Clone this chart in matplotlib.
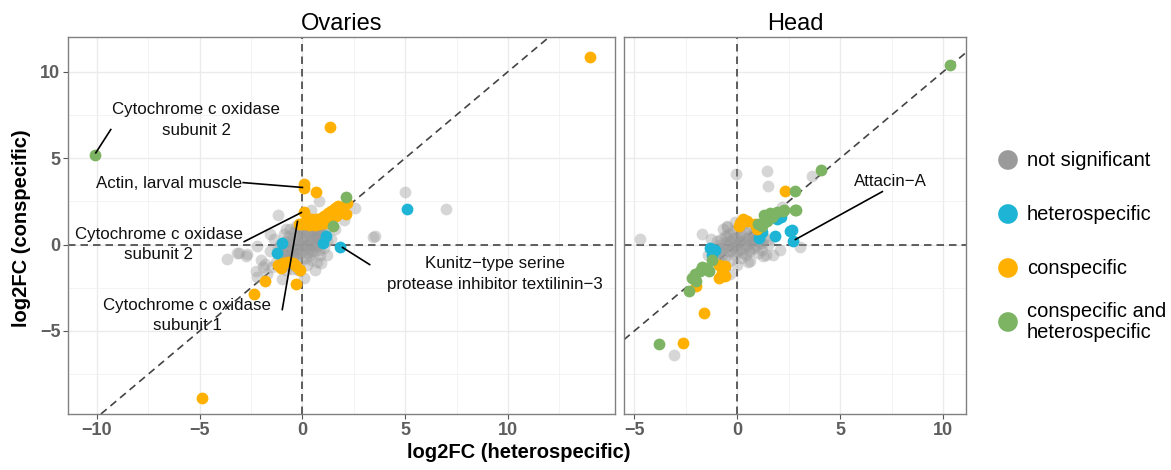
import matplotlib
matplotlib.use("Agg")
import matplotlib.pyplot as plt
import numpy as np

plt.rcParams['font.family'] = ['Liberation Sans', 'DejaVu Sans']

# ---------------- data (log2FC heterospecific, log2FC conspecific) ----------------
# Ovaries
ov_gray_x = [4.98, 6.98, 3.43, 2.54, 3.51, -3.66, -3.09, -2.68, -2.28, -2.2, -1.2, -2.21, -3.16, -2.75,
             0.83, 0.1, 0.91, 0.42, -1.5, 1.4, 1.6, 2.0, 1.2, -1.8, -1.6, -0.8, 0.6, -1.0, -1.9, -2.0, -1.7,
             -1.0, -0.9, -0.85, -0.8, -0.75, -0.7, -0.65, -0.6, -0.55, -0.5, -0.45, -0.4, -0.4, -0.35, -0.3,
             -0.25, -0.2, -0.2, -0.15, -0.1, -0.1, -0.05, 0.0, 0.0, 0.05, 0.1, 0.1, 0.15, 0.2, 0.2, 0.25, 0.3,
             0.3, 0.35, 0.4, 0.4, 0.45, 0.5, 0.55, 0.6, 0.6, 0.65, 0.7, 0.75, 0.8, 0.85, 0.9, 0.95, 1.0, 1.05,
             -1.1, -1.2, -1.3, -0.9, -0.6, -0.3, 0.0, 0.5, -0.5, 0.2, 0.7, -0.8, 1.2, 1.1, -0.2, -1.4, -1.6,
             -0.95, -0.85, -0.75, -0.65, -0.55, -0.45, -0.35, -0.25, -0.15, -0.05, 0.05, 0.15, 0.25, 0.35,
             0.45, 0.55, 0.65, 0.75, 0.85, 0.95, -0.9, -0.7, -0.5, -0.3, -0.1, 0.1, 0.3, 0.5, 0.7, 0.9,
             -1.1, -1.2, 1.0, 0.8]
ov_gray_y = [3.02, 2.06, 0.46, 2.1, 0.48, -0.83, -0.48, -0.52, -1.54, -1.9, 1.73, -0.1, -0.48, -0.67,
             2.5, -1.93, -1.06, 2.02, -1.3, 0.3, 0.9, 1.4, -0.6, -1.1, 0.6, 0.9, -1.5, -2.0, -1.3, -0.9, -1.7,
             -0.8, -0.3, -1.0, 0.2, -0.6, -1.2, 0.5, -0.2, -0.9, 0.1, -0.5, 0.7, -1.1, -0.2, 0.3,
             -0.7, 0.9, -0.3, 0.1, -1.0, 0.5, -0.5, 0.2, -0.1, 0.8, -0.3, 0.4, -0.8, 0.0, 1.0, -0.5, 0.6,
             0.2, -0.2, 0.9, -0.9, 0.4, 0.0, 0.7, -0.4, 1.0, 0.3, -0.1, 0.8, 0.4, -0.6, 0.1, 0.9, 0.5, -0.2,
             0.0, -0.5, -1.0, 0.6, 0.9, 1.1, 1.2, 1.2, -1.4, -1.2, -1.0, -1.5, 0.2, 0.8, -1.5, 0.3, -0.4,
             -0.5, 0.0, -0.9, 0.2, -0.4, 0.4, -0.7, 0.6, -0.3, 0.9, 0.3, -0.1, 0.8, 0.1,
             -0.4, 0.5, 0.0, 0.4, 0.9, 0.2, -0.6, -0.3, -0.8, -0.5, 0.0, 0.7, -0.6, 0.4, 0.6, 0.6,
             -1.1, -0.2, 0.1, -0.3]

ov_het_x = [5.09, 1.16, 0.99, 1.85, -1.0, -1.26]
ov_het_y = [2.06, 0.48, 0.1, -0.12, 0.1, -0.5]

ov_con_x = [14.0, 1.32, 0.1, 0.06, 0.67, 0.06, 2.18,
            -0.06, 0.18, 0.42, 0.67, 0.91, 1.07, 1.24, 1.4, 1.56, 1.72, 1.8, 1.97, 2.13, 1.07, 0.83,
            0.59, 0.34, 0.1, -0.15, 1.32, 1.64,
            -1.2, -0.96, -0.72, -0.47, -0.31, -0.1, -1.04,
            -1.82, -0.31, -2.34, -4.88]
ov_con_y = [10.87, 6.78, 3.5, 3.27, 3.05, 1.89, 2.41,
            1.2, 1.35, 1.45, 1.45, 1.54, 1.64, 1.83, 1.93, 2.12, 2.21, 2.02, 1.93, 1.77, 1.25, 1.16,
            1.12, 1.12, 1.16, 1.16, 1.35, 1.64,
            -1.16, -1.06, -1.0, -1.06, -1.25, -1.45, -1.35,
            -2.12, -2.27, -2.85, -8.9]

ov_both_x = [-10.1, 2.13, 1.5]
ov_both_y = [5.15, 2.73, 1.05]

# Head
hd_gray_x = [-0.05, 1.44, 1.47, 2.17, 3.62, 3.06, -4.71, -1.71, -3.06, 0.63, 1.27, 1.75, 2.09, -0.34, -0.5,
             -1.2, -1.0, -1.0, -0.9, -0.8, -0.8, -0.7, -0.6, -0.6, -0.5, -0.5, -0.4, -0.4, -0.3, -0.3, -0.2,
             -0.2, -0.1, -0.1, 0.0, 0.0, 0.1, 0.1, 0.2, 0.2, 0.3, 0.3, 0.4, 0.4, 0.5, 0.5, 0.6, 0.6, 0.7,
             0.8, 0.8, 0.9, 1.0, 1.0, 1.1, 1.2, 1.3, 1.4, -0.7, -1.3, -1.4, 0.3, -0.1, 0.7, -0.6, 0.0, 0.5,
             -1.1, -0.9, -0.7, -0.5, -0.3, -0.1, 0.1, 0.3, 0.5, 0.7, 0.9, 1.1, -0.8, -0.6, -0.4, -0.2,
             0.0, 0.2, 0.4, 0.6, 0.8, 1.0, 1.2, -1.0, -0.45, 0.15, 0.55, 0.95, 1.5, 1.6]
hd_gray_y = [4.05, 4.28, 3.41, 2.18, 3.97, -0.12, 0.33, 0.58, -6.36, -0.96, -0.67, -0.58, -0.29, -1.73, 1.06,
             -0.3, -0.8, 0.2, -0.4, 0.3, -1.0, -0.2, 0.5, -0.7, 0.0, 1.0, -0.4, 0.6, 0.2, -0.9, 0.8,
             -0.2, 0.4, -0.6, 0.0, 0.9, -0.3, 0.5, -0.8, 0.2, 0.7, -0.2, 0.3, -0.6, 0.9, 0.0, 0.5, -0.4, 0.1,
             0.7, -0.2, 0.3, -0.5, 0.8, 0.1, -0.3, 0.4, -0.6, 0.9, 0.3, -0.6, 1.2, 1.3, 1.1, -1.3, -1.2, -1.0,
             -0.5, 0.0, -0.5, 0.5, -0.4, 0.1, 0.2, -0.5, 0.4, 0.3, -0.1, 0.5, -0.6, 0.1, 0.2, 0.4,
             -0.4, 0.6, 0.0, 0.2, 0.3, 0.2, 0.1, -0.2, -0.1, 0.1, -0.3, 0.5, 0.0, 0.3]

hd_het_x = [1.04, 1.84, 2.57, 2.68, 1.93, 2.1, 1.2, -1.31, -1.07, -1.23, 2.65]
hd_het_y = [0.39, 0.52, 0.77, 0.23, 1.45, 1.6, 0.7, -0.19, -0.29, -0.58, 0.85]

hd_con_x = [2.33, 0.15, 0.47, 0.87, 0.96, 0.06, 0.3, -0.91, -0.58, -0.74, -0.91, -0.6, -1.99, -1.63, -2.64]
hd_con_y = [3.12, 1.25, 1.35, 1.16, 0.87, 1.06, 1.5, -1.16, -1.25, -1.64, -1.93, -1.8, -2.37, -3.95, -5.68]

hd_both_x = [10.34, 4.06, 2.82, 2.86, 1.28, 1.6, 1.93, 2.25, 1.44, 1.2, 2.82, 2.22, 1.7, 1.0,
             -1.23, -1.55, -1.8, -2.04, -2.2, -2.36, -1.39, -1.7, -2.0, -3.82]
hd_both_y = [10.39, 4.32, 3.12, 1.98, 1.73, 1.83, 1.87, 1.98, 1.35, 1.06, 2.0, 1.91, 1.6, 1.2,
             -0.87, -1.35, -1.54, -1.73, -1.93, -2.66, -1.54, -1.3, -2.1, -5.74]

# labelled genes: text, text position, segment start, point
ov_labels = ["Cytochrome c oxidase\nsubunit 2", "Actin, larval muscle",
             "Cytochrome c oxidase\nsubunit 2", "Cytochrome c oxidase\nsubunit 1",
             "Kunitz\u2212type serine\nprotease inhibitor textilinin\u22123"]
ov_label_xy = [(-5.17, 7.2), (-6.49, 3.53), (-6.98, 0.0), (-5.61, -4.1), (9.37, -1.7)]
ov_seg_from = [(-9.32, 6.65), (-2.88, 3.58), (-2.83, 0.17), (-0.98, -3.76), (3.27, -1.16)]
ov_seg_to = [(-10.05, 5.3), (0.0, 3.3), (-0.05, 1.85), (-0.24, 1.33), (1.95, -0.17)]

hd_labels = ["Attacin\u2212A"]
hd_label_xy = [(7.43, 3.64)]
hd_seg_from = [(7.04, 3.06)]
hd_seg_to = [(2.82, 0.29)]

legend_labels = ["not significant", "heterospecific", "conspecific", "conspecific and\nheterospecific"]

GRAY = "#9a9a9a"
HET = "#1db4d6"
CON = "#ffb000"
BOTH = "#7db463"

W, H = 1171, 470
fig = plt.figure(figsize=(W / 100, H / 100), dpi=100)
ax1 = fig.add_axes([68 / W, 1 - 414 / H, 547 / W, 377 / H])
ax2 = fig.add_axes([624 / W, 1 - 414 / H, 342 / W, 377 / H])


def style_panel(ax, xlim, xticks, xminor, show_y):
    ax.set_xlim(*xlim)
    ax.set_ylim(-9.8, 12.0)
    ax.set_xticks(xticks)
    ax.set_xticks(xminor, minor=True)
    ax.set_yticks([-5, 0, 5, 10])
    ax.set_yticks([-7.5, -2.5, 2.5, 7.5], minor=True)
    ax.grid(True, which='major', color='#ebebeb', lw=1.0, zorder=0)
    ax.grid(True, which='minor', color='#f1f1f1', lw=0.6, zorder=0)
    ax.set_axisbelow(True)
    for sp in ax.spines.values():
        sp.set_color('#808080')
        sp.set_linewidth(1.0)
    ax.tick_params(which='minor', length=0)
    ax.tick_params(which='major', length=3.5, width=0.8, color='#555555',
                   labelsize=13, labelcolor='#5e5e5e', pad=2)
    for lab in ax.get_xticklabels() + ax.get_yticklabels():
        lab.set_fontweight('bold')
    if not show_y:
        ax.tick_params(axis='y', left=False, labelleft=False)
    dash = (0, (4.5, 3))
    ax.axhline(0, color='#444444', lw=1.2, ls=dash, zorder=1)
    ax.axvline(0, color='#444444', lw=1.2, ls=dash, zorder=1)
    ax.axline((0, 0), slope=1, color='#444444', lw=1.2, ls=dash, zorder=1)


def draw_points(ax, gx, gy, hx, hy, cx, cy, bx, by):
    ax.scatter(gx, gy, s=72, color=GRAY, alpha=0.4, linewidths=0, zorder=2)
    ax.scatter(hx, hy, s=72, color=HET, linewidths=0, zorder=3)
    ax.scatter(cx, cy, s=72, color=CON, linewidths=0, zorder=3)
    ax.scatter(bx, by, s=72, color=BOTH, linewidths=0, zorder=3)


def draw_labels(ax, labels, text_xy, seg_from, seg_to):
    for lab, (tx, ty), (x0, y0), (x1, y1) in zip(labels, text_xy, seg_from, seg_to):
        ax.plot([x0, x1], [y0, y1], color='black', lw=1.2, zorder=4)
        ax.text(tx, ty, lab, ha='center', va='center', fontsize=12.2,
                linespacing=1.45, color='#111111', zorder=5)


style_panel(ax1, (-11.4, 15.2), [-10, -5, 0, 5, 10], [-7.5, -2.5, 2.5, 7.5, 12.5], True)
style_panel(ax2, (-5.5, 11.1), [-5, 0, 5, 10], [-2.5, 2.5, 7.5], False)

draw_points(ax1, ov_gray_x, ov_gray_y, ov_het_x, ov_het_y, ov_con_x, ov_con_y, ov_both_x, ov_both_y)
draw_points(ax2, hd_gray_x, hd_gray_y, hd_het_x, hd_het_y, hd_con_x, hd_con_y, hd_both_x, hd_both_y)

draw_labels(ax1, ov_labels, ov_label_xy, ov_seg_from, ov_seg_to)
draw_labels(ax2, hd_labels, hd_label_xy, hd_seg_from, hd_seg_to)

ax1.set_title("Ovaries", fontsize=17, pad=5)
ax2.set_title("Head", fontsize=17, pad=5)

fig.text(519 / W, 1 - 453 / H, "log2FC (heterospecific)", ha='center', va='center',
         fontsize=14.5, fontweight='bold')
fig.text(22 / W, 1 - 228 / H, "log2FC (conspecific)", ha='center', va='center',
         rotation=90, fontsize=14.5, fontweight='bold')

# legend drawn by hand so the key spacing matches ggplot's fixed key heights
leg = fig.add_axes([0, 0, 1, 1], facecolor='none')
leg.set_xlim(0, W)
leg.set_ylim(H, 0)
leg.axis('off')
leg_y = [160, 214, 268, 322]
leg.scatter([1008] * 4, leg_y, s=200, color=[GRAY, HET, CON, BOTH], linewidths=0)
for lab, y in zip(legend_labels, leg_y):
    leg.text(1027, y, lab, ha='left', va='center', fontsize=14.5, linespacing=1.15)

fig.savefig("out.png", dpi=100)
